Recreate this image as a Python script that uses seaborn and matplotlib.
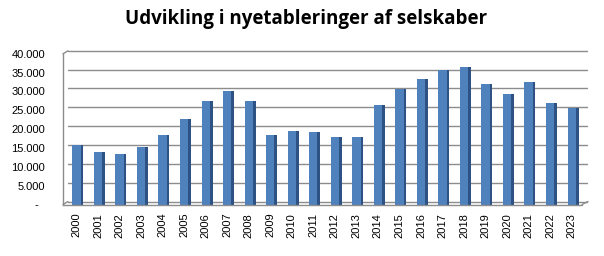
import matplotlib
matplotlib.use("Agg")
import matplotlib.pyplot as plt
import matplotlib.transforms as mtransforms
import seaborn as sns
import pandas as pd

years = [str(y) for y in range(2000, 2024)]
values = [15900, 14000, 13400, 15300, 18500, 22600, 27400, 30100, 27400, 18400,
          19400, 19200, 17900, 17800, 26500, 30600, 33200, 35800, 36500, 32100,
          29300, 32400, 27000, 25600]
yticks = [0, 5000, 10000, 15000, 20000, 25000, 30000, 35000, 40000]
ytick_labels = ["-  ", "5.000", "10.000", "15.000", "20.000", "25.000", "30.000", "35.000", "40.000"]
title = "Udvikling i nyetableringer af selskaber"

df = pd.DataFrame({"year": years, "value": values})

sns.set_theme(style="white")
plt.rcParams["font.family"] = ["Liberation Sans", "DejaVu Sans"]

W, H = 604, 256
fig = plt.figure(figsize=(W / 100, H / 100), dpi=100)
left_px, right_px, top_px, bot_px = 63, 582, 53.8, 204.5
ax = fig.add_axes([left_px / W, 1 - bot_px / H, (right_px - left_px) / W, (bot_px - top_px) / H])

front = "#4F81BD"
side = "#2E5283"
sns.barplot(data=df, x="year", y="value", color=front, width=0.385, saturation=1,
            linewidth=0, ax=ax, zorder=3)
# side faces for pseudo 3D look
ax.bar([i + 0.255 for i in range(len(values))], values, width=0.125, color=side,
       zorder=3, linewidth=0)

ax.set_xlim(-0.627, 23.48)
ax.set_ylim(0, 40000)

# back-wall gridlines (offset up-right) and wall edges
dx, dy = 5, 3
off = mtransforms.offset_copy(ax.transData, fig=fig, x=dx, y=dy, units="dots")
grid_col = "#8C8C8C"
xl, xr = ax.get_xlim()
for v in yticks:
    ax.plot([xl, xr], [v, v], transform=off, color=grid_col, lw=1.0, zorder=1, clip_on=False)
for v in [0, 40000]:
    ax.annotate("", xy=(xl, v), xycoords="data", xytext=(dx, dy), textcoords="offset pixels",
                arrowprops=dict(arrowstyle="-", color=grid_col, lw=1.0, shrinkA=0, shrinkB=0))
ax.annotate("", xy=(xr, 0), xycoords="data", xytext=(dx + 1, dy), textcoords="offset pixels",
            arrowprops=dict(arrowstyle="-", color=grid_col, lw=1.0, shrinkA=0, shrinkB=0))
ax.plot([xl, xr], [0, 0], color=grid_col, lw=1.0, zorder=4, clip_on=False)

for s in ["top", "right", "bottom"]:
    ax.spines[s].set_visible(False)
ax.spines["left"].set_color(grid_col)
ax.spines["left"].set_linewidth(1.0)

ax.set_yticks(yticks)
ax.set_yticklabels(ytick_labels)
ax.tick_params(axis="y", length=0, pad=13, labelsize=8, labelcolor="#000000")
ax.tick_params(axis="x", length=0, pad=6, labelsize=8, labelcolor="#000000", rotation=90)
ax.set_xlabel("")
ax.set_ylabel("")

fig.text(306 / W, 1 - 19 / H, title, ha="center", va="center", fontsize=13.5,
         fontweight="bold", family=["Open Sans", "DejaVu Sans"], color="#000000")

fig.savefig("out.png", dpi=100, facecolor="white")
